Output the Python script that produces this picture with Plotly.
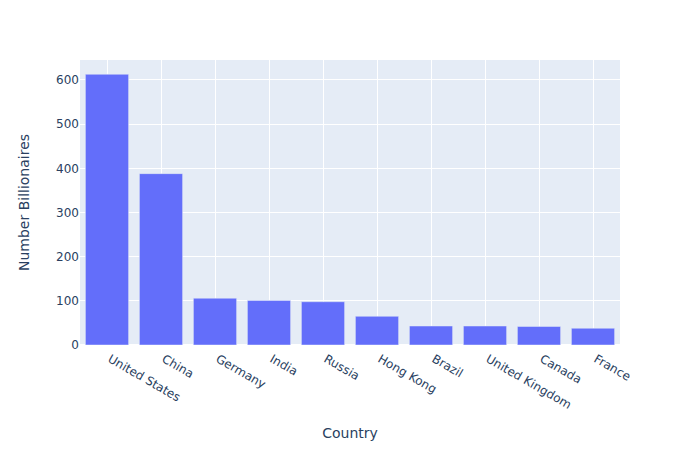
import plotly.graph_objects as go

countries = ["United States", "China", "Germany", "India", "Russia", "Hong Kong",
             "Brazil", "United Kingdom", "Canada", "France"]
billionaires = [613, 388, 106, 101, 98, 65, 43, 43, 42, 38]

fig = go.Figure(go.Bar(x=countries, y=billionaires))
fig.update_layout(
    template="plotly",
    width=700, height=450,
    font=dict(family="DejaVu Sans"),
    margin=dict(t=60, l=80, r=80, b=105),
)
fig.update_xaxes(showgrid=True, ticklabelstandoff=4, ticklabelshift=3,
                 title=dict(text="Country", standoff=17))
fig.update_yaxes(title=dict(text="Number Billionaires", standoff=23))
fig.write_html("out.html", post_script="document.body.style.margin='0px';",
               config={"displayModeBar": False})
